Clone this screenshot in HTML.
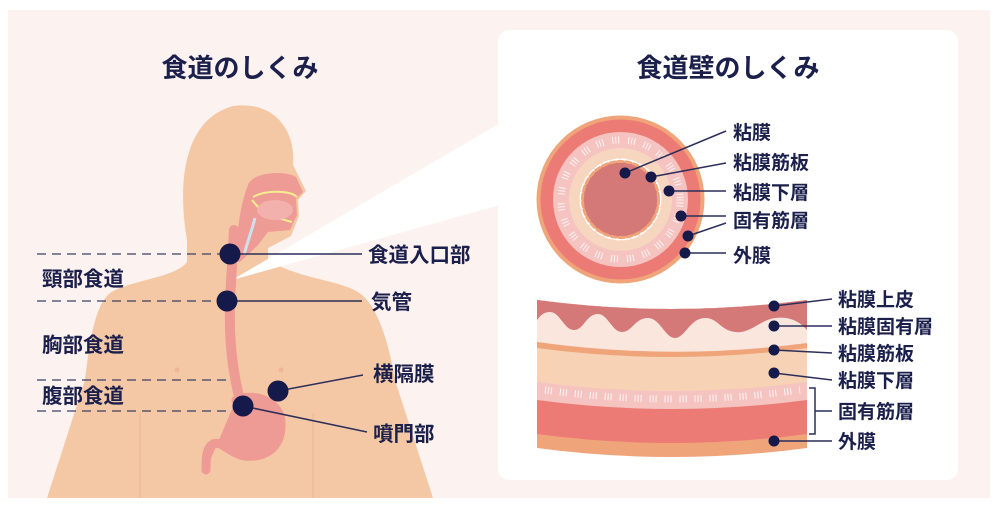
<!DOCTYPE html>
<html><head><meta charset="utf-8"><style>
html,body{margin:0;padding:0;background:#fff;}
svg{display:block;}
text{font-family:"Liberation Sans","Noto Sans CJK JP",sans-serif;font-weight:bold;fill:#1b1f4b;}
</style></head><body>
<svg width="997" height="505" viewBox="0 0 997 505" xmlns="http://www.w3.org/2000/svg">
<rect x="8" y="10" width="982" height="488" fill="#fcf2ef"/>
<!-- body -->
<path d="M187,240 C180,200 176,122 233,106 C278,100 296,135 293,165 L306,191 L298,200 L299,216 L291,236 L268,248 L268,260 C300,280 345,280 362,295 C380,310 390,350 395,380 L433,498 L47,498 L85,380 C90,340 95,305 110,293 C130,280 175,278 187,262 Z" fill="#f5c8a5"/>
<path d="M140,413 L140,498 M313,413 L313,498" stroke="#edbb97" stroke-width="1.5" fill="none"/>
<circle cx="177" cy="370" r="2.5" fill="#efb796"/><circle cx="281" cy="370" r="2.5" fill="#efb796"/>
<!-- mouth / pharynx -->
<path d="M248,185 C252,172 285,170 296,177 L303,192 L296,199 L297,215 L290,230 L268,232 L258,245 L240,262 L236,262 L238,230 C240,210 244,195 248,185 Z" fill="#ee9a95"/>
<path d="M253,197 C265,190 290,190 297,197" stroke="#f3ef8e" stroke-width="2" fill="none"/>
<path d="M252,200 C260,210 265,215 292,222" stroke="#f3ef8e" stroke-width="2" fill="none"/>
<ellipse cx="275" cy="210" rx="18" ry="10" fill="#f2b1ad"/>
<path d="M255,218 C252,230 248,240 244,255" stroke="#cfe0ec" stroke-width="3" fill="none"/>
<!-- light beam -->
<polygon points="232,280 500,123 500,205" fill="#fff"/>
<!-- esophagus -->
<path d="M234,230 L230,300 C229,340 232,370 240,400" stroke="#ee9a95" stroke-width="10" fill="none" stroke-linecap="round"/>
<path d="M236,400 C255,392 282,402 281,425 C281,448 265,458 245,456 C230,454 222,440 213,444 C206,448 206,460 206,470" stroke="#ee9a95" stroke-width="9" fill="#ee9a95" stroke-linecap="round"/>
<!-- dashed lines -->
<g stroke="#3a3f66" stroke-width="1.3" stroke-dasharray="9 6" fill="none">
<line x1="37" y1="254" x2="228" y2="254"/>
<line x1="37" y1="301" x2="225" y2="301"/>
<line x1="37" y1="380" x2="232" y2="380"/>
<line x1="37" y1="411" x2="232" y2="411"/>
</g>
<g stroke="#2b2f5a" stroke-width="1.5" fill="none">
<line x1="230" y1="254" x2="362" y2="254"/>
<line x1="227" y1="301" x2="362" y2="301"/>
<line x1="278" y1="391" x2="363" y2="375"/>
<line x1="243" y1="406" x2="367" y2="432"/>
</g>
<g fill="#161a4a">
<circle cx="230" cy="254" r="10.5"/><circle cx="227" cy="301" r="10.5"/>
<circle cx="278" cy="391" r="10.5"/><circle cx="243" cy="406" r="10.5"/>
</g>
<text x="240" y="77" font-size="26" text-anchor="middle">食道のしくみ</text>
<g font-size="20.5">
<text x="368" y="262">食道入口部</text>
<text x="371" y="309">気管</text>
<text x="373" y="381">横隔膜</text>
<text x="373" y="441">噴門部</text>
<text x="42" y="286">頸部食道</text>
<text x="42" y="352">胸部食道</text>
<text x="42" y="403">腹部食道</text>
</g>
<!-- right panel -->
<rect x="498" y="30" width="460" height="450" rx="11" fill="#fff"/>
<text x="728" y="77" font-size="26" text-anchor="middle">食道壁のしくみ</text>
<!-- circle cross-section -->
<circle cx="620.5" cy="199.5" r="84" fill="#f0a47a"/>
<circle cx="620.5" cy="199.5" r="80" fill="#ec7b75"/>
<circle cx="620.5" cy="199.5" r="67.5" fill="#f5c3c0"/>
<circle cx="620.5" cy="199.5" r="59.5" fill="none" stroke="#fff" stroke-width="7" stroke-dasharray="1 2 1 2 1 9" opacity="0.85"/>
<circle cx="620.5" cy="199.5" r="51.5" fill="#f7d6bf"/>
<circle cx="620.5" cy="199.5" r="40" fill="#fff" stroke="#fff" stroke-width="2" stroke-dasharray="6 3" stroke-linecap="round"/>
<circle cx="620.5" cy="199.5" r="38" fill="#d47878" stroke="#f0a47a" stroke-width="3" stroke-dasharray="5 3" stroke-linecap="round"/>
<g stroke="#2b2f5a" stroke-width="1.5" fill="none">
<line x1="625" y1="173" x2="726" y2="131"/>
<line x1="651" y1="177" x2="726" y2="163"/>
<line x1="669" y1="191" x2="726" y2="191"/>
<line x1="681" y1="216" x2="726" y2="216"/>
<line x1="688" y1="236" x2="726" y2="223"/>
<line x1="685" y1="253" x2="726" y2="253"/>
</g>
<g fill="#161a4a">
<circle cx="625" cy="173" r="5.5"/><circle cx="651" cy="177" r="5.5"/><circle cx="669" cy="191" r="5.5"/>
<circle cx="681" cy="216" r="5.5"/><circle cx="688" cy="236" r="5.5"/><circle cx="685" cy="253" r="5.5"/>
</g>
<g font-size="19">
<text x="733" y="139">粘膜</text>
<text x="733" y="169">粘膜筋板</text>
<text x="733" y="199">粘膜下層</text>
<text x="733" y="227">固有筋層</text>
<text x="733" y="262">外膜</text>
</g>
<!-- band -->
<path d="M537,300 Q672,318 807,300 L807,448 Q672,466 537,448 Z" fill="#f0a47a"/>
<path d="M537,300 Q672,318 807,300 L807,434 Q672,452 537,434 Z" fill="#ec7b75"/>
<path d="M537,300 Q672,318 807,300 L807,400 Q672,418 537,400 Z" fill="#f5c3c0"/>
<path d="M545,390 Q672,408 800,390" stroke="#fff" stroke-width="7" stroke-dasharray="1 2 1 2 1 8" fill="none" opacity="0.85"/>
<path d="M537,300 Q672,318 807,300 L807,382 Q672,400 537,382 Z" fill="#f7d2b4"/>
<path d="M537,300 Q672,318 807,300 L807,348 Q672,366 537,348 Z" fill="#f0a47a"/>
<path d="M537,300 Q672,318 807,300 L807,343 Q672,361 537,342 Z" fill="#fbe6de"/>
<path d="M537,300 Q672,318 807,300 L807,330 C800,322 790,316 775,318 C760,320 750,334 735,332 C720,330 718,318 705,318 C690,318 685,338 675,338 C665,338 660,318 648,318 C635,318 632,332 622,332 C612,332 608,314 598,314 C586,314 584,330 574,330 C564,330 560,312 550,312 C543,312 540,316 537,320 Z" fill="#d47878"/>
<g stroke="#2b2f5a" stroke-width="1.5" fill="none">
<line x1="774" y1="306" x2="832" y2="299"/>
<line x1="774" y1="326" x2="832" y2="326"/>
<line x1="774" y1="350" x2="832" y2="353"/>
<line x1="774" y1="373" x2="832" y2="380"/>
<line x1="774" y1="441" x2="832" y2="441"/>
<path d="M809,388 L815,388 L815,434 L809,434 M815,411 L832,411"/>
</g>
<g fill="#161a4a">
<circle cx="774" cy="306" r="5.5"/><circle cx="774" cy="326" r="5.5"/><circle cx="774" cy="350" r="5.5"/>
<circle cx="774" cy="373" r="5.5"/><circle cx="774" cy="441" r="5.5"/>
</g>
<g font-size="19">
<text x="838" y="306">粘膜上皮</text>
<text x="838" y="333">粘膜固有層</text>
<text x="838" y="360">粘膜筋板</text>
<text x="838" y="387">粘膜下層</text>
<text x="838" y="418">固有筋層</text>
<text x="838" y="448">外膜</text>
</g>
</svg>
</body></html>
